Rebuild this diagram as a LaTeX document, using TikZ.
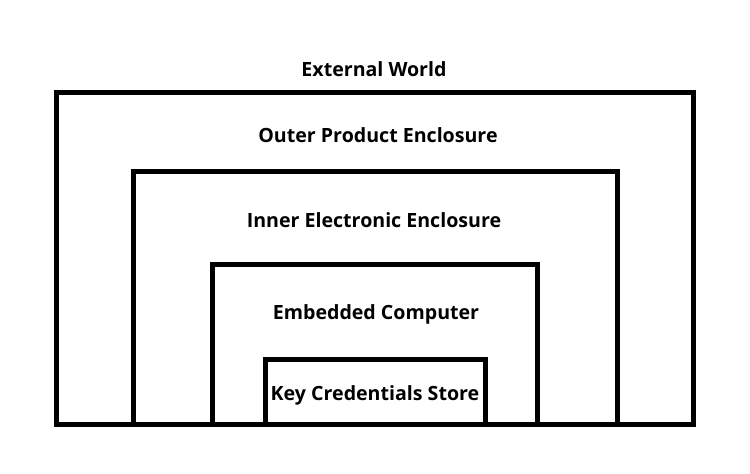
\documentclass[tikz,border=0pt]{standalone}
\usepackage{fontspec}
\setmainfont{Open Sans}
\usetikzlibrary{positioning}
\tikzset{
  encl/.style = {draw, line width=5pt, line join=miter},
  lbl/.style  = {font=\bfseries\fontsize{19.6}{22}\selectfont, inner sep=0pt, anchor=base},
}
\begin{document}
\begin{tikzpicture}[x=1pt,y=-1pt]
  \useasboundingbox (0,0) rectangle (750,474);
  % nested enclosures, all sharing the bottom edge
  \draw[encl] (56.5,92.5)  rectangle (693.5,424.5);
  \draw[encl] (133.5,171.5) rectangle (617.5,424.5);
  \draw[encl] (212.5,264.5) rectangle (537.5,424.5);
  \draw[encl] (265.5,359.5) rectangle (485.5,424.5);
  % labels
  \node[lbl] (world)  at (374,76)  {External World};
  \node[lbl] (outer)  at (378,142) {Outer Product Enclosure};
  \node[lbl] (inner)  at (374,227) {Inner Electronic Enclosure};
  \node[lbl] (embed)  at (376,319) {Embedded Computer};
  \node[lbl] (keys)   at (375,400) {Key Credentials Store};
\end{tikzpicture}
\end{document}
